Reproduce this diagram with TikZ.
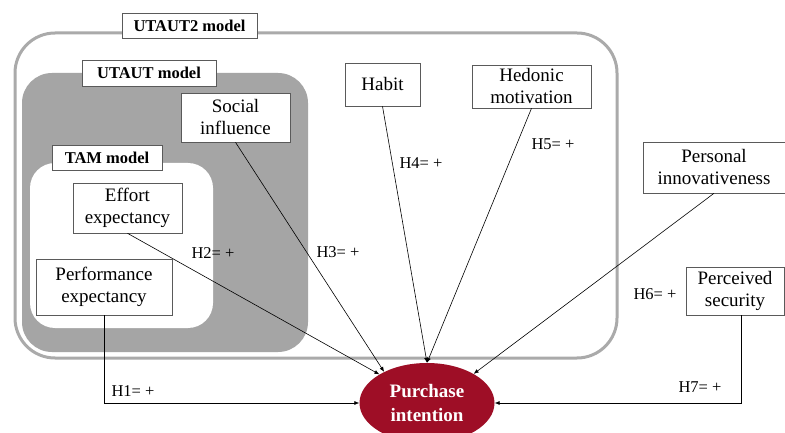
\documentclass[tikz,border=0pt]{standalone}
\usepackage{fontspec}
\setmainfont{Liberation Serif}
\usetikzlibrary{shapes.geometric,arrows.meta}
\definecolor{framegray}{RGB}{170,170,170}
\definecolor{utautgray}{RGB}{165,165,165}
\definecolor{boxline}{RGB}{90,90,90}
\definecolor{pired}{RGB}{158,14,38}
\tikzset{
  construct/.style={draw=boxline, line width=0.6pt, fill=white, align=center, inner sep=1pt,
    font=\fontsize{19}{22}\selectfont},
  modellabel/.style={draw=boxline, line width=0.6pt, fill=white, inner sep=1pt,
    font=\fontsize{16.5}{19}\selectfont\bfseries},
  hyp/.style={inner sep=0pt, font=\fontsize{16.5}{19}\selectfont},
  link/.style={draw=black, line width=0.6pt, -{Latex[length=5pt,width=4pt]}}
}
\begin{document}
\begin{tikzpicture}[x=1pt,y=-1pt]
\useasboundingbox[fill=white] (0,0) rectangle (785,433);
% containers
\draw[framegray, line width=3pt, rounded corners=40pt] (15,33) rectangle (617,358);
\fill[utautgray, rounded corners=30pt] (22,73) rectangle (308,352);
\fill[white, rounded corners=25pt] (30,163) rectangle (213,328);
% model labels
\node[modellabel, minimum width=135pt, minimum height=25pt] (utaut2lab) at (189.5,25.5) {UTAUT2 model};
\node[modellabel, minimum width=134pt, minimum height=26pt] (utautlab) at (149,73) {UTAUT model};
\node[modellabel, minimum width=110pt, minimum height=25pt] (tamlab) at (107,157.5) {TAM model};
% constructs
\node[construct, minimum width=109pt, minimum height=49pt] (social) at (235.5,117.5) {Social\\influence};
\node[construct, minimum width=109pt, minimum height=50pt] (effort) at (127.5,208) {Effort\\expectancy};
\node[construct, minimum width=136pt, minimum height=56pt] (perf) at (104,287) {Performance\\expectancy};
\node[construct, minimum width=75pt, minimum height=43pt] (habit) at (382.5,84.5) {Habit};
\node[construct, minimum width=119pt, minimum height=43pt] (hedonic) at (531.5,86.5) {Hedonic\\motivation};
\node[construct, minimum width=142pt, minimum height=51pt] (personal) at (714,167.5) {Personal\\innovativeness};
\node[construct, minimum width=98pt, minimum height=48pt] (security) at (735,291) {Perceived\\security};
% outcome
\node[ellipse, fill=pired, text=white, align=center, inner sep=0pt,
  minimum width=135pt, minimum height=80pt,
  font=\fontsize{19}{24}\selectfont\bfseries] (pi) at (427,403) {Purchase\\intention};
% connectors
\draw[link] (perf.south) |- (pi.west);
\draw[link] (effort.south) -- (pi.149);
\draw[link] (social.south) -- (pi.144);
\draw[link] (habit.south) -- (pi.north);
\draw[link] (hedonic.south) -- (pi.north);
\draw[link] (personal.south) -- (pi.32);
\draw[link] ([xshift=6pt]security.south) |- (pi.east);
% hypothesis labels
\node[hyp] (h1) at (133,391) {H1= +};
\node[hyp] (h2) at (213,253) {H2= +};
\node[hyp] (h3) at (338,252) {H3= +};
\node[hyp] (h4) at (421,163) {H4= +};
\node[hyp] (h5) at (553,144) {H5= +};
\node[hyp] (h6) at (655,294) {H6= +};
\node[hyp] (h7) at (700,387) {H7= +};
\end{tikzpicture}
\end{document}
